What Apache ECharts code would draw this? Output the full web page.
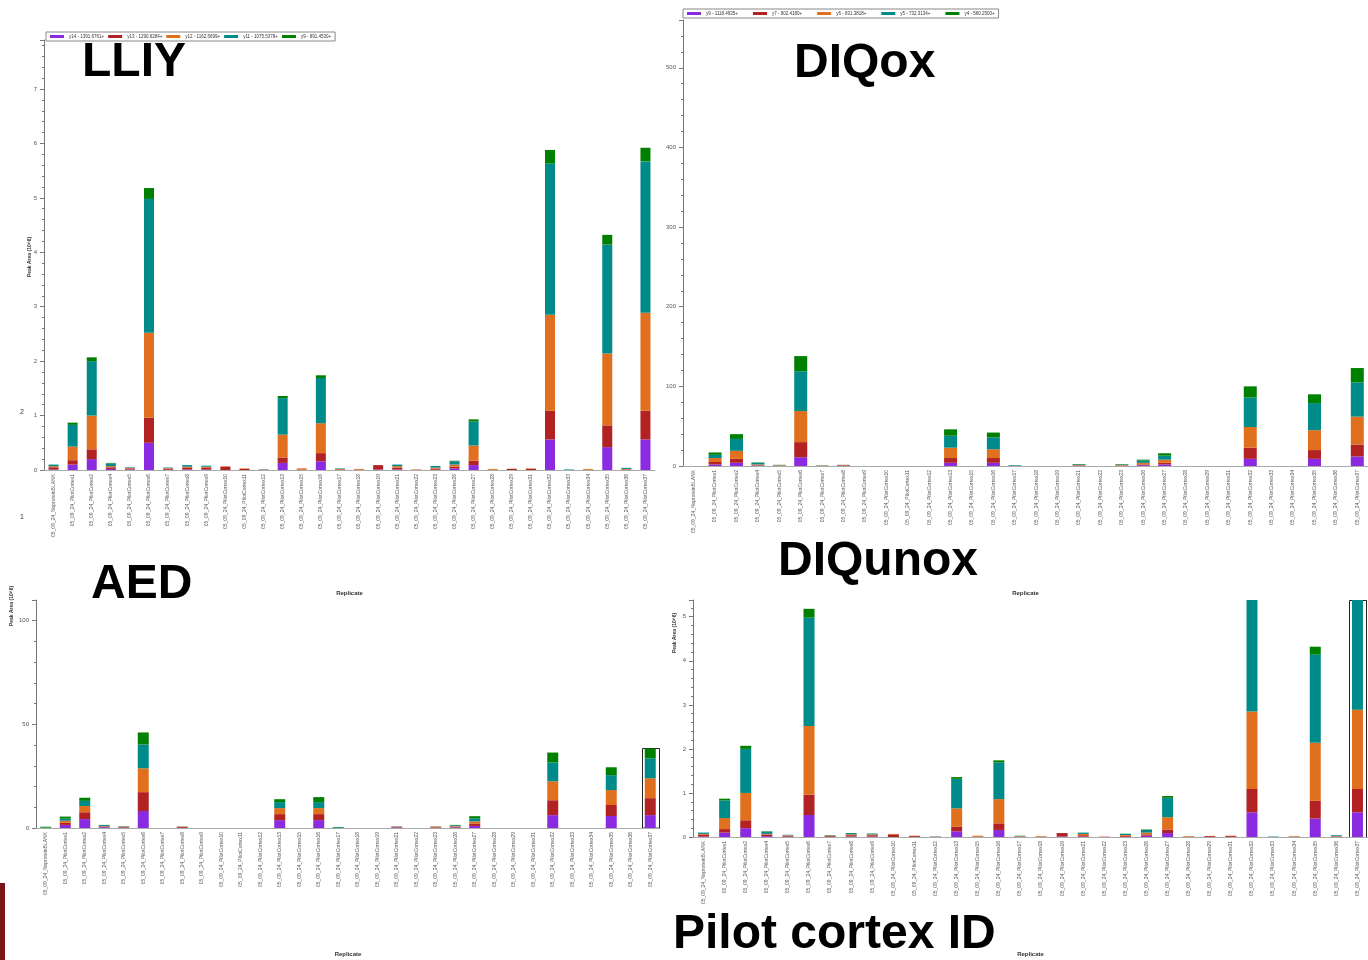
<!DOCTYPE html>
<html>
<head>
<meta charset="utf-8">
<script src="https://cdn.jsdelivr.net/npm/echarts@6/dist/echarts.min.js"></script>
<style>
  html, body { margin: 0; padding: 0; background: #fff; }
  #c { width: 1368px; height: 960px; }
</style>
</head>
<body>
<div id="c"></div>
<script>
// Replicates shared by all four panels
const replicates = [
  '05_09_24_NoproteinBLANK', '05_09_24_PilotCortex1', '05_09_24_PilotCortex2', '05_09_24_PilotCortex4',
  '05_09_24_PilotCortex5', '05_09_24_PilotCortex6', '05_09_24_PilotCortex7', '05_09_24_PilotCortex8',
  '05_09_24_PilotCortex9', '05_09_24_PilotCortex10', '05_09_24_PilotCortex11', '05_09_24_PilotCortex12',
  '05_09_24_PilotCortex13', '05_09_24_PilotCortex15', '05_09_24_PilotCortex16', '05_09_24_PilotCortex17',
  '05_09_24_PilotCortex18', '05_09_24_PilotCortex19', '05_09_24_PilotCortex21', '05_09_24_PilotCortex22',
  '05_09_24_PilotCortex23', '05_09_24_PilotCortex26', '05_09_24_PilotCortex27', '05_09_24_PilotCortex28',
  '05_09_24_PilotCortex29', '05_09_24_PilotCortex31', '05_09_24_PilotCortex32', '05_09_24_PilotCortex33',
  '05_09_24_PilotCortex34', '05_09_24_PilotCortex35', '05_09_24_PilotCortex36', '05_09_24_PilotCortex37'
];

// LLIY transitions, peak area (10^6)
const lliyNames = ['y14 - 1391.6761+', 'y13 - 1290.6284+', 'y12 - 1162.5699+', 'y11 - 1075.5378+', 'y9 - 891.4530+'];
const lliyY14 = [0.01,0.10,0.20,0.02,0.01,0.50,0.005,0.01,0.01,0,0,0,0.13,0,0.16,0,0,0.01,0.01,0,0.005,0.03,0.09,0,0,0,0.56,0,0,0.42,0,0.56];
const lliyY13 = [0.04,0.08,0.18,0.03,0.02,0.46,0.02,0.03,0.03,0.06,0.02,0.005,0.10,0.01,0.15,0.01,0.005,0.08,0.03,0.005,0.02,0.03,0.08,0.005,0.02,0.02,0.53,0,0.005,0.40,0.01,0.53];
const lliyY12 = [0.02,0.25,0.62,0.02,0.01,1.56,0.01,0.02,0.02,0.01,0.01,0.005,0.42,0.02,0.55,0.01,0.015,0,0.03,0.005,0.02,0.04,0.28,0.015,0.005,0.01,1.76,0,0.015,1.32,0.01,1.80];
const lliyY11 = [0.03,0.40,1.00,0.05,0.01,2.46,0.01,0.03,0.02,0,0,0.005,0.67,0,0.83,0.01,0,0,0.03,0,0.03,0.06,0.44,0,0,0,2.78,0.01,0,2.00,0.02,2.78];
const lliyY9  = [0,0.04,0.07,0.01,0,0.20,0,0,0,0,0,0,0.04,0,0.05,0,0,0,0,0,0,0.01,0.04,0,0,0,0.25,0,0,0.18,0,0.25];

// DIQox transitions
const diqNames = ['y9 - 1118.4935+', 'y7 - 902.4180+', 'y6 - 831.3818+', 'y5 - 732.3134+', 'y4 - 560.2500+'];
const diqY9 = [0,2,4,0.5,0.2,11,0.1,0.2,0,0,0,0,4,0,4,0,0,0,0.3,0,0.2,1,2,0,0,0,9,0,0,9,0,12];
const diqY7 = [0,3,5,0.5,0.3,19,0.2,0.8,0,0,0,0,6,0,6,0,0,0,0.5,0,0.4,1,2,0,0,0,14,0,0,11,0,15];
const diqY6 = [0,5,10,1,0.5,39,0.3,0.3,0,0,0,0,13,0,11,0.2,0,0,0.5,0,0.6,2,4,0,0,0,26,0,0,25,0,35];
const diqY5 = [0,4,15,2,0.3,50,0.2,0.2,0,0,0,0,15,0,15,0.8,0,0,0.8,0,0.8,3,5,0,0,0,37,0,0,34,0,43];
const diqY4 = [0,3,6,0.5,0.2,19,0.1,0,0,0,0,0,8,0,6,0,0,0,0.4,0,0.4,1,3,0,0,0,14,0,0,11,0,18];

// AED transitions
const aedNames = ['AED purple', 'AED red', 'AED orange', 'AED teal', 'AED green'];
const aedA = [0,1.5,4.3,0.4,0.2,8.2,0,0.1,0,0,0,0,3.8,0,3.8,0,0,0,0.3,0,0.1,0.3,1.0,0,0,0,6.2,0,0,5.8,0,6.2];
const aedB = [0,1.0,3.3,0.3,0.3,9.1,0,0.4,0,0,0,0,2.9,0,2.9,0,0,0,0.3,0,0.3,0.3,1.0,0,0,0,7.2,0,0,5.3,0,8.2];
const aedC = [0,1.0,3.0,0.2,0.2,11.5,0,0.2,0,0,0,0,2.9,0,2.9,0,0,0,0.1,0,0.3,0.3,1.2,0,0,0,9.1,0,0,7.2,0,9.6];
const aedD = [0.2,1.0,2.5,0.5,0.1,11.5,0,0.1,0,0,0,0,2.9,0,2.9,0.4,0,0,0.1,0,0.1,0.4,1.5,0,0,0,9.1,0,0,7.2,0,9.6];
const aedE = [0.4,1.0,1.5,0.1,0.1,5.8,0,0,0,0,0,0,1.4,0,2.4,0.1,0,0,0,0,0,0.2,1.0,0,0,0,4.8,0,0,3.8,0,4.8];

const colors = ['#8a2be2', '#b22222', '#e0701e', '#008b8b', '#008000'];
const font = '"Liberation Sans", Arial, sans-serif';

// panel frames: [left, top, width, height]
const panels = [
  { box: [44, 40, 611, 430], max: 7.9, interval: 1, barWidth: 10, nameGap: 120 },
  { box: [683, 20, 685, 446], max: 560, interval: 100, barWidth: 13, nameGap: 124 },
  { box: [36, 600, 624, 228], max: 110, interval: 50, barWidth: 11, nameGap: 123 },
  { box: [693, 600, 675, 237], max: 5.38, interval: 1, barWidth: 11, nameGap: 114 }
];
const seriesSets = [
  { names: lliyNames, data: [lliyY14, lliyY13, lliyY12, lliyY11, lliyY9] },
  { names: diqNames, data: [diqY9, diqY7, diqY6, diqY5, diqY4] },
  { names: aedNames, data: [aedA, aedB, aedC, aedD, aedE] },
  { names: lliyNames.map(n => n + ' '), data: [lliyY14, lliyY13, lliyY12, lliyY11, lliyY9] }
];

const grid = [], xAxis = [], yAxis = [], series = [];
panels.forEach((p, i) => {
  grid.push({ left: p.box[0], top: p.box[1], width: p.box[2], height: p.box[3] });
  xAxis.push({
    type: 'category', gridIndex: i, data: replicates,
    name: 'Replicate', nameLocation: 'middle', nameGap: p.nameGap,
    nameTextStyle: { fontSize: 6, fontWeight: 'bold', color: '#333', fontFamily: font },
    axisLine: { lineStyle: { color: '#aaa', width: 1 } },
    axisTick: { alignWithLabel: true, length: 3, lineStyle: { color: '#777' } },
    axisLabel: { rotate: 90, interval: 0, fontSize: 5, color: '#555', margin: 4, fontFamily: font }
  });
  yAxis.push({
    type: 'value', gridIndex: i, min: 0, max: p.max, interval: p.interval,
    axisLine: { show: true, lineStyle: { color: '#777', width: 1 } },
    axisTick: { show: true, length: 4, lineStyle: { color: '#777' } },
    minorTick: { show: true, splitNumber: 5, length: 2, lineStyle: { color: '#777' } },
    splitLine: { show: false },
    axisLabel: { fontSize: 6, color: '#555', margin: 7, fontFamily: font, showMaxLabel: false }
  });
  const set = seriesSets[i];
  set.data.forEach((vals, k) => {
    series.push({
      type: 'bar', name: set.names[k], stack: 'p' + i,
      xAxisIndex: i, yAxisIndex: i, data: vals,
      barWidth: p.barWidth, itemStyle: { color: colors[k] },
      clip: true, silent: true
    });
  });
});

const legendBase = {
  orient: 'horizontal', icon: 'rect', itemWidth: 14, itemHeight: 3,
  borderColor: '#888', borderWidth: 1, padding: [2, 4],
  textStyle: { fontSize: 4.5, color: '#333', fontFamily: font }
};

const titleText = (text, x, y) => ({
  type: 'text', x: x, y: y,
  style: { text: text, font: 'bold 48px ' + font, fill: '#000', textVerticalAlign: 'middle' }
});
const smallText = (text, x, y, rot, size, weight) => ({
  type: 'text', x: x, y: y, rotation: rot || 0,
  style: { text: text, font: (weight || 'normal') + ' ' + (size || 6) + 'px ' + font,
           fill: '#333', textAlign: 'center', textVerticalAlign: 'middle' }
});

const chart = echarts.init(document.getElementById('c'), null, { renderer: 'canvas' });
chart.setOption({
  backgroundColor: '#fff',
  animation: false,
  color: colors,
  grid, xAxis, yAxis, series,
  legend: [
    Object.assign({}, legendBase, { left: 46, top: 32, itemGap: 4, data: lliyNames }),
    Object.assign({}, legendBase, { left: 683, top: 9, itemGap: 15, data: diqNames })
  ]
});

// outline around the last replicate's bar, measured through the panel's axes
function outlineLast(gi, values) {
  const last = replicates.length - 1;
  const top = values.reduce((s, arr) => s + arr[last], 0);
  const yMax = panels[gi].max;
  const a = chart.convertToPixel({ gridIndex: gi }, [last, Math.min(top, yMax)]);
  const b = chart.convertToPixel({ gridIndex: gi }, [last, 0]);
  const half = panels[gi].barWidth / 2 + 3;
  return {
    type: 'rect',
    shape: { x: Math.round(a[0] - half) + 0.5, y: Math.round(a[1]) + 0.5, width: half * 2, height: b[1] - a[1] },
    style: { fill: 'none', stroke: '#222', lineWidth: 1 }
  };
}

chart.setOption({
  graphic: [
    titleText('LLIY', 82, 63),
    titleText('DIQox', 794, 64),
    titleText('AED', 91, 585),
    titleText('DIQunox', 778, 562),
    titleText('Pilot cortex ID', 673, 935),
    smallText('Peak Area (10^6)', 30, 257, Math.PI / 2, 5, 'bold'),
    smallText('Peak Area (10^6)', 12, 606, Math.PI / 2, 5, 'bold'),
    smallText('Peak Area (10^6)', 675, 633, Math.PI / 2, 5, 'bold'),
    smallText('2', 22, 412, 0, 7),
    smallText('1', 22, 517, 0, 7),
    { type: 'rect', shape: { x: 0, y: 883, width: 5, height: 77 }, style: { fill: '#7b1414' } },
    outlineLast(2, seriesSets[2].data),
    outlineLast(3, seriesSets[3].data)
  ]
});
</script>
</body>
</html>
